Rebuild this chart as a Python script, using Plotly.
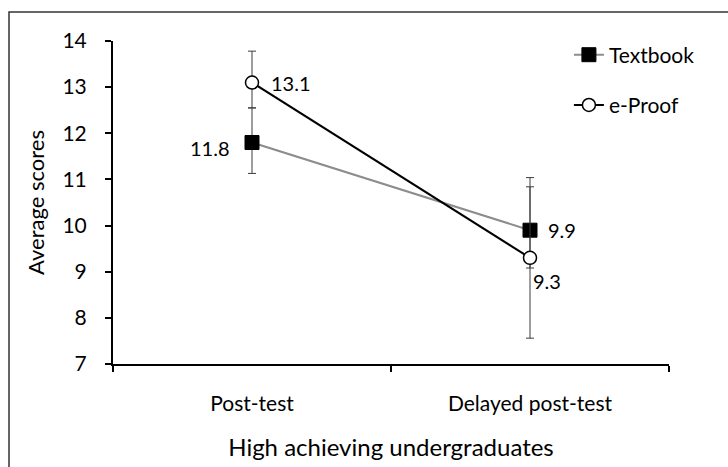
import plotly.graph_objects as go

# Data
categories = ["Post-test", "Delayed post-test"]
textbook = [11.8, 9.9]
textbook_err_plus = [0.75, 0.94]
textbook_err_minus = [0.67, 0.82]
eproof = [13.1, 9.3]
eproof_err_plus = [0.68, 1.74]
eproof_err_minus = [0.55, 1.74]
y_ticks = [7, 8, 9, 10, 11, 12, 13, 14]

W, H = 728, 467
ML, MR, MT, MB = 113, 59, 41, 103
FONT = "Lato"
ERR_COLOR = "#3c3c3c"

fig = go.Figure()

fig.add_trace(go.Scatter(
    x=categories, y=textbook, name="Textbook", mode="lines+markers",
    legendgroup="tb",
    line=dict(color="#8c8c8c", width=2),
    marker=dict(symbol="square", size=14, color="black",
                line=dict(color="black", width=1)),
    error_y=dict(type="data", symmetric=False, array=textbook_err_plus,
                 arrayminus=textbook_err_minus, color=ERR_COLOR,
                 thickness=1, width=4),
))
fig.add_trace(go.Scatter(
    x=categories, y=eproof, name="e-Proof", mode="lines+markers",
    legendgroup="ep",
    line=dict(color="black", width=2),
    marker=dict(symbol="circle", size=13, color="white",
                line=dict(color="black", width=1.5)),
    error_y=dict(type="data", symmetric=False, array=eproof_err_plus,
                 arrayminus=eproof_err_minus, color=ERR_COLOR,
                 thickness=1, width=4),
))

# Value labels next to each point
label_specs = [
    (categories[0], textbook[0], "right", -20, -5),
    (categories[1], textbook[1], "left", 16, 0),
    (categories[0], eproof[0], "left", 17, 0),
    (categories[1], eproof[1], "left", 1, -23),
]
for x, y, anchor, dx, dy in label_specs:
    fig.add_annotation(x=x, y=y, text=f"{y:.1f}", showarrow=False,
                       xanchor=anchor, yanchor="middle", xshift=dx, yshift=dy,
                       font=dict(family=FONT, size=20, color="black"))

# Outer frame
pw, ph = W - ML - MR, H - MT - MB
fig.add_shape(type="rect", xref="paper", yref="paper",
              x0=(9 - ML) / pw, x1=(W + 20 - ML) / pw,
              y0=-(H + 20 - MT - ph) / ph, y1=1 + (MT - 12) / ph,
              line=dict(color="#333333", width=1.5), fillcolor="rgba(0,0,0,0)",
              layer="below")

fig.update_layout(
    width=W, height=H,
    margin=dict(l=ML, r=MR, t=MT, b=MB),
    paper_bgcolor="white", plot_bgcolor="white",
    font=dict(family=FONT, size=21, color="black"),
    showlegend=True,
    legend=dict(x=0.82, y=1.02, xanchor="left", yanchor="top",
                traceorder="grouped", tracegroupgap=20,
                bgcolor="rgba(0,0,0,0)", font=dict(family=FONT, size=21)),
    xaxis=dict(
        type="category", range=[-0.5, 1.5], tickson="boundaries",
        showline=True, linecolor="black", linewidth=2,
        ticks="outside", ticklen=6, tickwidth=2, tickcolor="black",
        showgrid=False, zeroline=False, ticklabelstandoff=20,
        automargin=False,
        tickfont=dict(family=FONT, size=21),
        title=dict(text="High achieving undergraduates", standoff=25,
                   font=dict(family=FONT, size=24)),
    ),
    yaxis=dict(
        range=[7, 14], tickvals=y_ticks,
        showline=True, linecolor="black", linewidth=2,
        ticks="outside", ticklen=6, tickwidth=2, tickcolor="black",
        showgrid=False, zeroline=False, ticklabelstandoff=14,
        automargin=False,
        tickfont=dict(family=FONT, size=21),
        title=dict(text="Average scores", standoff=12,
                   font=dict(family=FONT, size=22)),
    ),
)

fig.write_html("out.html")
